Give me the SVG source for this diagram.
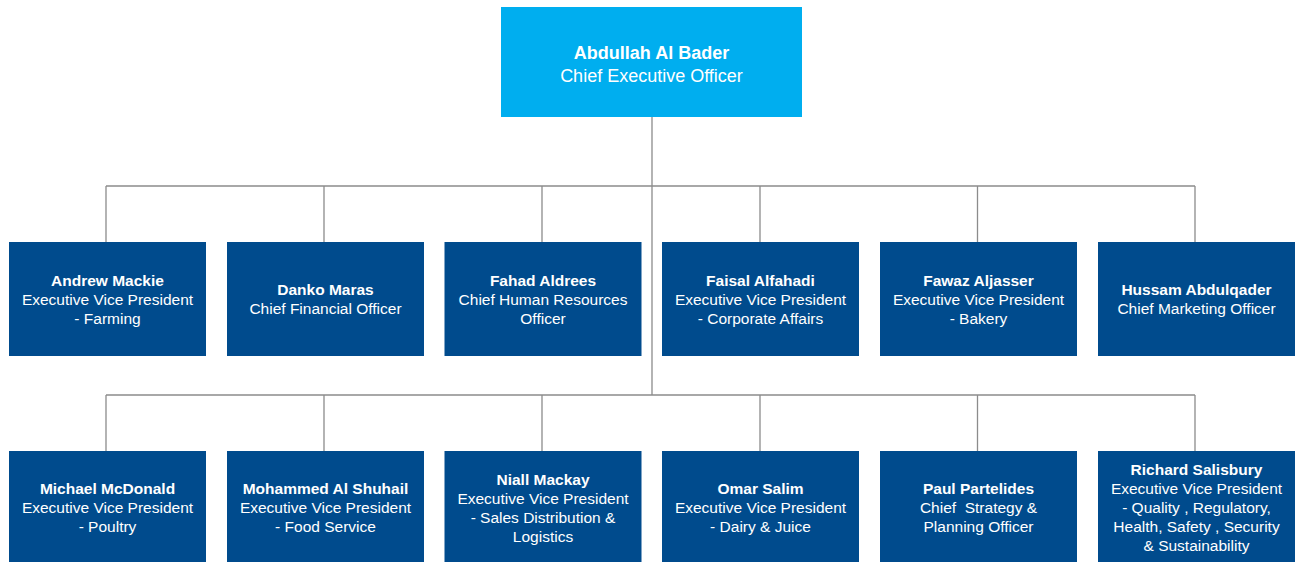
<svg xmlns="http://www.w3.org/2000/svg" width="1295" height="562" viewBox="0 0 1295 562">
<style>
.ceo{fill:#00AEEF}
.box{fill:#004B8D}
.t{font-family:"Liberation Sans",Arial,sans-serif;fill:#fff;text-anchor:middle;font-size:15.5px}
.n{font-weight:bold}
.ct{font-size:18px}
.ln{stroke:#8c8c8c;stroke-width:1.3;fill:none}
</style>
<rect width="1295" height="562" fill="#fff"/>
<g id="connectors">
<path class="ln" d="M652 117V395M106 186H1195M106 186V242M324 186V242M542 186V242M760 186V242M977.5 186V242M1195 186V242M106 395H1195M106 395V451M324 395V451M542 395V451M760 395V451M977.5 395V451M1195 395V451"/>
</g>
<g id="ceo">
<rect class="ceo" x="501" y="7" width="301" height="110"/>
<text class="t ct n" x="651.5" y="59">Abdullah Al Bader</text>
<text class="t ct" x="651.5" y="82">Chief Executive Officer</text>
</g>
<g id="andrew">
<rect class="box" x="9" y="242" width="197" height="114"/>
<text class="t n" x="107.5" y="285.5">Andrew Mackie</text>
<text class="t" x="107.5" y="304.5">Executive Vice President</text>
<text class="t" x="107.5" y="323.5">- Farming</text>
</g>
<g id="danko">
<rect class="box" x="227" y="242" width="197" height="114"/>
<text class="t n" x="325.5" y="295">Danko Maras</text>
<text class="t" x="325.5" y="314">Chief Financial Officer</text>
</g>
<g id="fahad">
<rect class="box" x="444.5" y="242" width="197" height="114"/>
<text class="t n" x="543" y="285.5">Fahad Aldrees</text>
<text class="t" x="543" y="304.5">Chief Human Resources</text>
<text class="t" x="543" y="323.5">Officer</text>
</g>
<g id="faisal">
<rect class="box" x="662" y="242" width="197" height="114"/>
<text class="t n" x="760.5" y="285.5">Faisal Alfahadi</text>
<text class="t" x="760.5" y="304.5">Executive Vice President</text>
<text class="t" x="760.5" y="323.5">- Corporate Affairs</text>
</g>
<g id="fawaz">
<rect class="box" x="880" y="242" width="197" height="114"/>
<text class="t n" x="978.5" y="285.5">Fawaz Aljasser</text>
<text class="t" x="978.5" y="304.5">Executive Vice President</text>
<text class="t" x="978.5" y="323.5">- Bakery</text>
</g>
<g id="hussam">
<rect class="box" x="1098" y="242" width="197" height="114"/>
<text class="t n" x="1196.5" y="295">Hussam Abdulqader</text>
<text class="t" x="1196.5" y="314">Chief Marketing Officer</text>
</g>
<g id="michael">
<rect class="box" x="9" y="451" width="197" height="111"/>
<text class="t n" x="107.5" y="494">Michael McDonald</text>
<text class="t" x="107.5" y="513">Executive Vice President</text>
<text class="t" x="107.5" y="532">- Poultry</text>
</g>
<g id="mohammed">
<rect class="box" x="227" y="451" width="197" height="111"/>
<text class="t n" x="325.5" y="494">Mohammed Al Shuhail</text>
<text class="t" x="325.5" y="513">Executive Vice President</text>
<text class="t" x="325.5" y="532">- Food Service</text>
</g>
<g id="niall">
<rect class="box" x="444.5" y="451" width="197" height="111"/>
<text class="t n" x="543" y="484.5">Niall Mackay</text>
<text class="t" x="543" y="503.5">Executive Vice President</text>
<text class="t" x="543" y="522.5">- Sales Distribution &amp;</text>
<text class="t" x="543" y="541.5">Logistics</text>
</g>
<g id="omar">
<rect class="box" x="662" y="451" width="197" height="111"/>
<text class="t n" x="760.5" y="494">Omar Salim</text>
<text class="t" x="760.5" y="513">Executive Vice President</text>
<text class="t" x="760.5" y="532">- Dairy &amp; Juice</text>
</g>
<g id="paul">
<rect class="box" x="880" y="451" width="197" height="111"/>
<text class="t n" x="978.5" y="494">Paul Partelides</text>
<text class="t" x="978.5" y="513" xml:space="preserve">Chief  Strategy &amp;</text>
<text class="t" x="978.5" y="532">Planning Officer</text>
</g>
<g id="richard">
<rect class="box" x="1098" y="451" width="197" height="111"/>
<text class="t n" x="1196.5" y="475">Richard Salisbury</text>
<text class="t" x="1196.5" y="494">Executive Vice President</text>
<text class="t" x="1196.5" y="513">- Quality , Regulatory,</text>
<text class="t" x="1196.5" y="532">Health, Safety , Security</text>
<text class="t" x="1196.5" y="551">&amp; Sustainability</text>
</g>
</svg>
